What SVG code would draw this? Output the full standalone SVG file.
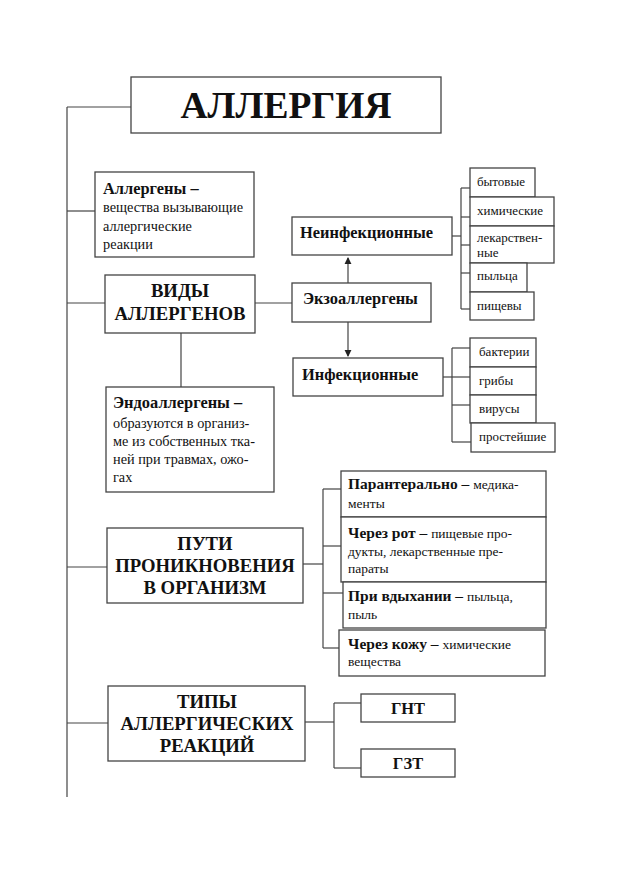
<svg xmlns="http://www.w3.org/2000/svg" width="638" height="878" viewBox="0 0 638 878">
<style>
rect{fill:#fff;stroke:#444;stroke-width:1.3}
line,path.c{stroke:#444;stroke-width:1.2;fill:none}
text{font-family:"Liberation Serif","Times New Roman",serif;fill:#111}
.b{font-weight:bold}
.t{font-size:37.5px;font-weight:bold;text-anchor:middle}
.h{font-size:18.7px;font-weight:bold;text-anchor:middle}
.m{font-size:16.4px;font-weight:bold}
.r{font-size:14.3px}
.s{font-size:13px}
.p{font-size:15.5px;font-weight:bold}
.q{font-size:13.5px;font-weight:normal}
</style>
<defs>
<marker id="ar" viewBox="0 0 8 8" refX="7" refY="4" markerWidth="6" markerHeight="6" orient="auto">
<path d="M0,0 L8,4 L0,8 z" fill="#222"/>
</marker>
</defs>
<rect x="0" y="0" width="638" height="878" style="fill:#fff;stroke:none"/>
<g id="connectors">
<line x1="67" y1="107" x2="67" y2="797"/>
<line x1="67" y1="107" x2="131" y2="107"/>
<line x1="67" y1="211" x2="95" y2="211"/>
<line x1="67" y1="303" x2="105" y2="303"/>
<line x1="255" y1="303" x2="292" y2="303"/>
<line x1="181" y1="333" x2="181" y2="387"/>
<line x1="348" y1="283" x2="348" y2="258" marker-end="url(#ar)"/>
<line x1="348" y1="322" x2="348" y2="356" marker-end="url(#ar)"/>
<line x1="452" y1="236" x2="461" y2="236"/>
<line x1="461" y1="188" x2="461" y2="309"/>
<line x1="461" y1="188" x2="470" y2="188"/>
<line x1="461" y1="217" x2="470" y2="217"/>
<line x1="461" y1="245" x2="470" y2="245"/>
<line x1="461" y1="273" x2="470" y2="273"/>
<line x1="461" y1="309" x2="470" y2="309"/>
<line x1="443" y1="377" x2="452" y2="377"/>
<line x1="452" y1="348" x2="452" y2="442"/>
<line x1="452" y1="348" x2="470" y2="348"/>
<line x1="452" y1="377" x2="470" y2="377"/>
<line x1="452" y1="405" x2="470" y2="405"/>
<line x1="452" y1="442" x2="471" y2="442"/>
<line x1="67" y1="567" x2="107" y2="567"/>
<line x1="303" y1="564" x2="323" y2="564"/>
<line x1="323" y1="489" x2="323" y2="648"/>
<line x1="323" y1="489" x2="341" y2="489"/>
<line x1="323" y1="546" x2="341" y2="546"/>
<line x1="323" y1="593" x2="343" y2="593"/>
<line x1="323" y1="648" x2="339" y2="648"/>
<line x1="67" y1="723" x2="108" y2="723"/>
<line x1="305" y1="722" x2="334" y2="722"/>
<line x1="334" y1="703" x2="334" y2="768"/>
<line x1="334" y1="703" x2="361" y2="703"/>
<line x1="334" y1="768" x2="361" y2="768"/>
</g>
<g id="allergy">
<rect x="131" y="77" width="310" height="56"/>
<text class="t" x="286" y="118">АЛЛЕРГИЯ</text>
</g>
<g id="allergens">
<rect x="95" y="172" width="159" height="85"/>
<text class="m" x="103" y="194">Аллергены –</text>
<text class="r" x="103" y="212">вещества вызывающие</text>
<text class="r" x="103" y="231">аллергические</text>
<text class="r" x="103" y="249">реакции</text>
</g>
<g id="vidy">
<rect x="105" y="275" width="150" height="58"/>
<text class="h" x="180" y="297">ВИДЫ</text>
<text class="h" x="180" y="320">АЛЛЕРГЕНОВ</text>
</g>
<g id="endo">
<rect x="106" y="387" width="168" height="105"/>
<text class="m" x="113" y="408">Эндоаллергены –</text>
<text class="r" x="113" y="428">образуются в организ-</text>
<text class="r" x="113" y="446">ме из собственных тка-</text>
<text class="r" x="113" y="464">ней при травмах, ожо-</text>
<text class="r" x="113" y="482">гах</text>
</g>
<g id="neinf">
<rect x="292" y="217" width="160" height="38"/>
<text class="m" x="300" y="238">Неинфекционные</text>
</g>
<g id="ekzo">
<rect x="292" y="283" width="139" height="39"/>
<text class="m" x="303" y="304">Экзоаллергены</text>
</g>
<g id="inf">
<rect x="293" y="358" width="150" height="38"/>
<text class="m" x="302" y="380">Инфекционные</text>
</g>
<g id="bytovye"><rect x="470" y="168" width="65" height="29"/><text class="s" x="477" y="186">бытовые</text></g>
<g id="himicheskie"><rect x="470" y="197" width="84" height="29"/><text class="s" x="477" y="215">химические</text></g>
<g id="lekarstvennye"><rect x="470" y="226" width="84" height="37"/><text class="s" x="477" y="242">лекарствен-</text><text class="s" x="477" y="257">ные</text></g>
<g id="pylca"><rect x="470" y="263" width="57" height="29"/><text class="s" x="477" y="280">пыльца</text></g>
<g id="pishchevy"><rect x="470" y="292" width="64" height="28"/><text class="s" x="477" y="310">пищевы</text></g>
<g id="bakterii"><rect x="470" y="338" width="66" height="29"/><text class="s" x="479" y="356">бактерии</text></g>
<g id="griby"><rect x="470" y="367" width="66" height="28"/><text class="s" x="479" y="385">грибы</text></g>
<g id="virusy"><rect x="470" y="395" width="66" height="28"/><text class="s" x="479" y="413">вирусы</text></g>
<g id="prosteyshie"><rect x="471" y="423" width="84" height="29"/><text class="s" x="479" y="441">простейшие</text></g>
<g id="puti">
<rect x="107" y="528" width="196" height="75"/>
<text class="h" x="205" y="550">ПУТИ</text>
<text class="h" x="205" y="572">ПРОНИКНОВЕНИЯ</text>
<text class="h" x="205" y="594">В ОРГАНИЗМ</text>
</g>
<g id="parenteral">
<rect x="341" y="471" width="205" height="46"/>
<text class="p" x="348" y="489">Парантерально – <tspan class="q">медика-</tspan></text>
<text class="q" x="348" y="508">менты</text>
</g>
<g id="rot">
<rect x="341" y="517" width="205" height="65"/>
<text class="p" x="348" y="538">Через рот – <tspan class="q">пищевые про-</tspan></text>
<text class="q" x="348" y="556">дукты, лекарственные пре-</text>
<text class="q" x="348" y="573">параты</text>
</g>
<g id="vdyh">
<rect x="343" y="582" width="203" height="46"/>
<text class="p" x="348" y="601">При вдыхании – <tspan class="q">пыльца,</tspan></text>
<text class="q" x="348" y="619">пыль</text>
</g>
<g id="kozha">
<rect x="339" y="630" width="206" height="46"/>
<text class="p" x="348" y="649">Через кожу – <tspan class="q">химические</tspan></text>
<text class="q" x="348" y="666">вещества</text>
</g>
<g id="tipy">
<rect x="108" y="686" width="197" height="75"/>
<text class="h" x="207" y="708">ТИПЫ</text>
<text class="h" x="207" y="730">АЛЛЕРГИЧЕСКИХ</text>
<text class="h" x="207" y="752">РЕАКЦИЙ</text>
</g>
<g id="gnt"><rect x="361" y="694" width="94" height="28"/><text class="m" x="408" y="714" text-anchor="middle">ГНТ</text></g>
<g id="gzt"><rect x="361" y="749" width="94" height="28"/><text class="m" x="408" y="769" text-anchor="middle">ГЗТ</text></g>
</svg>
